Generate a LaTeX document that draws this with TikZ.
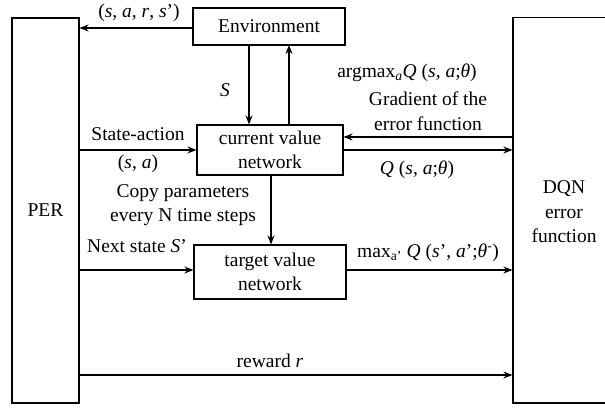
\documentclass[tikz,border=0pt]{standalone}
\usepackage{fontspec}
\setmainfont{Liberation Serif}
\usetikzlibrary{arrows.meta}
\tikzset{ box/.style = { rectangle
                         , draw
                         , line width   = 1.1pt
                         , inner sep    = 0pt
                         , align        = center
                         },
            lbl/.style = { inner sep    = 0pt
                         , align        = center
                         },
            arr/.style = { line width   = 1.1pt
                         , -{Stealth[length=9pt, width=7pt]}
                         }
          }

\begin{document}
\begin{tikzpicture}[x=1pt, y=-1pt, font=\fontsize{19.5}{24.5}\selectfont]
    \useasboundingbox (0,0) rectangle (605,407);
    % boxes
    \node[box, minimum width=67pt,  minimum height=385pt] (per) at (45.5,210.5) {PER};
    \node[box, minimum width=107pt, minimum height=385.5pt] (dqn) at (566.5,210.2) {};
    \node[lbl] (dqnt) at (564,212) {DQN\\error\\function};
    \node[box, minimum width=152pt, minimum height=37pt] (env) at (269,26.5) {Environment};
    \node[box, minimum width=146pt, minimum height=50pt] (cur) at (270,150) {current value\\network};
    \node[box, minimum width=152pt, minimum height=54pt] (tgt) at (270,272) {target value\\network};
    % connectors
    \coordinate (envs) at (249,45);
    \coordinate (envu) at (289,45);
    \coordinate (curc) at (271,175);
    \draw[arr] (env.west |- 0,28) -- (per.east |- 0,28);
    \draw[arr] (envs) -- (envs |- cur.north);
    \draw[arr] (envu |- cur.north) -- (envu);
    \draw[arr] (per.east |- 0,150) -- (cur.west |- 0,150);
    \draw[arr] (dqn.west |- 0,137) -- (cur.east |- 0,137);
    \draw[arr] (cur.east |- 0,150) -- (dqn.west |- 0,150);
    \draw[arr] (curc) -- (curc |- tgt.north);
    \draw[arr] (per.east |- 0,270) -- (tgt.west |- 0,270);
    \draw[arr] (tgt.east |- 0,270) -- (dqn.west |- 0,270);
    \draw[arr] (per.east |- 0,375) -- (dqn.west |- 0,375);
    % labels
    \node[lbl] (lsars) at (139,13)  {(\textit{s}, \textit{a}, \textit{r}, \textit{s}’)};
    \node[lbl] (ls)    at (225,90)  {\textit{S}};
    \node[lbl] (lsa)   at (138,134) {State-action};
    \node[lbl] (lsap)  at (138,164) {(\textit{s}, \textit{a})};
    \node[lbl] (lcopy) at (183,205) {Copy parameters\\every N time steps};
    \node[lbl] (lnext) at (137,246) {Next state \textit{S}’};
    \node[lbl] (larg)  at (407,73)  {argmax\textsubscript{\textit{a}}\textit{Q} (\textit{s}, \textit{a};\textit{θ})};
    \node[lbl] (lgrad) at (428,111) {Gradient of the\\error function};
    \node[lbl] (lq)    at (417,170) {\textit{Q} (\textit{s}, \textit{a};\textit{θ})};
    \node[lbl] (lmax)  at (428,253) {max\textsubscript{a’} \textit{Q} (\textit{s}’, \textit{a}’;\textit{θ}\textsuperscript{-})};
    \node[lbl] (lrew)  at (270,361) {reward \textit{r}};
\end{tikzpicture}
\end{document}
